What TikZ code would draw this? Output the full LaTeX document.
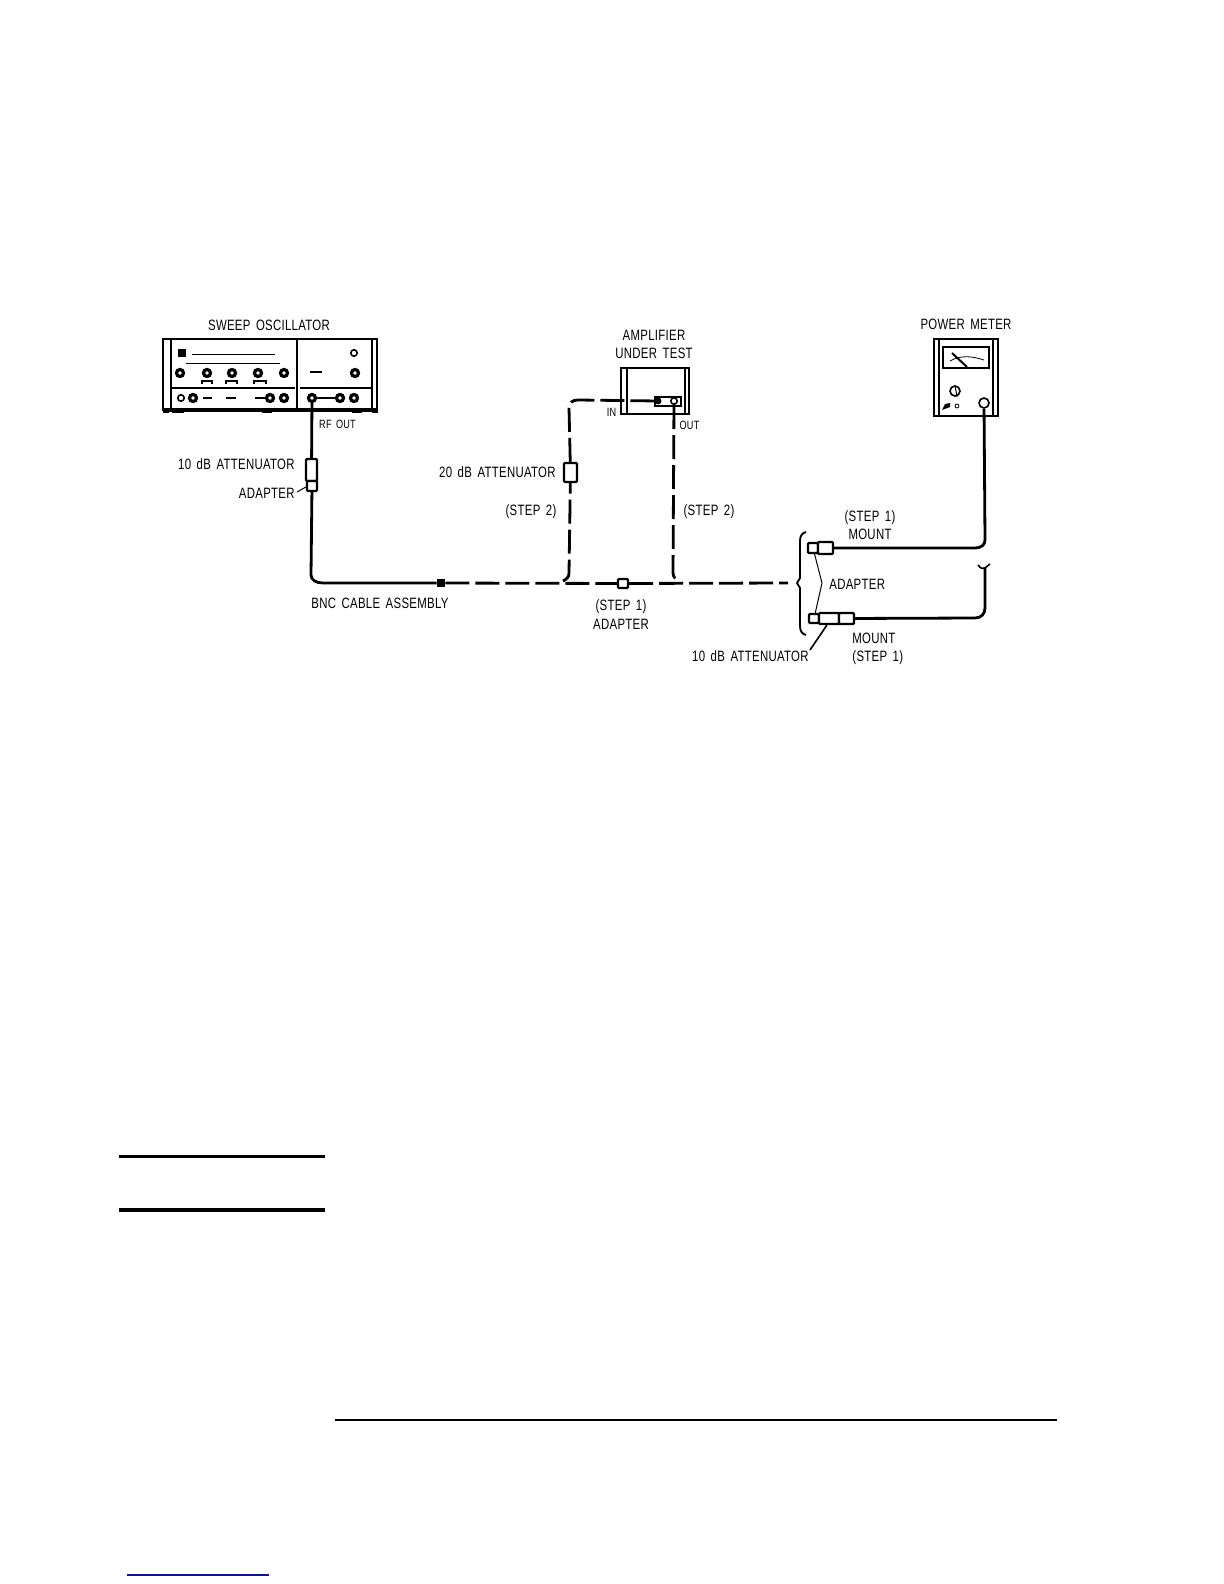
\documentclass[tikz,border=0pt]{standalone}
\usepackage{fontspec}
\setmainfont[FakeStretch=0.76,LetterSpace=2,WordSpace=1.6]{Liberation Sans}
\usepackage{tikz}
\usetikzlibrary{calc,positioning,arrows.meta}
\definecolor{linkblue}{RGB}{20,20,130}
\tikzset{
  lbl/.style={font=\fontsize{7.5}{9}\selectfont, inner sep=0pt, align=center},
  tiny lbl/.style={font=\fontsize{6}{7}\selectfont, inner sep=0pt},
  cable/.style={black, line width=1.4pt},
  link/.style={black, line width=1.4pt, dash pattern=on 12pt off 3pt},
  unit/.style={draw, fill=white, line width=1.1pt, inner sep=0pt, rounded corners=0.5pt},
  knob/.style={draw, circle, fill=white, line width=1.6pt, inner sep=0pt, minimum size=3.5pt},
  pip/.style={draw, circle, fill=white, line width=0.8pt, inner sep=0pt, minimum size=3.2pt},
  leader/.style={black, line width=0.5pt}
}
\begin{document}
\begin{tikzpicture}[x=0.5pt,y=-0.5pt]
  \useasboundingbox (0,0) rectangle (1224,1584);
  % sweep oscillator
  \node[draw, line width=0.9pt, minimum width=107pt, minimum height=35.5pt, inner sep=0pt] (osc) at (270,374.5) {};
  \draw[line width=0.9pt] (171,339) -- (171,410);
  \draw[line width=0.9pt] (372,339) -- (372,410);
  \draw[line width=0.9pt] (297,339) -- (297,410);
  \draw[line width=1.6pt] (163,410) -- (377,410);
  \draw[line width=0.7pt] (172,388) -- (295,388);
  \draw[line width=0.7pt] (300,388) -- (372,388);
  \draw[line width=0.5pt] (192,354) -- (275,354);
  \draw[line width=0.5pt] (186,363) -- (280,363);
  \fill (178,349) rectangle (186,357);
  \foreach \fx/\fw in {163/6,172/12,262/10,352/10,372/6}
    \fill (\fx,410) rectangle ++(\fw,3);
  \foreach \kx/\knm in {180/ka,207/kb,232/kc,258/kd,284/ke,355/kf}
    \node[knob] (\knm) at (\kx,373) {};
  \node[pip] (kg) at (354,353) {};
  \foreach \bx/\bw in {202/10,226/11,254/12}
    \draw[line width=0.6pt] (\bx,384) -- (\bx,381) -- ++(\bw,0) -- ++(0,3);
  \draw[line width=1pt] (310,372) -- (322,372);
  \node[pip] (ph) at (181,398) {};
  \node[knob] (pi) at (193,398) {};
  \node[knob] (pj) at (270,398) {};
  \node[knob] (pk) at (284,398) {};
  \node[knob] (rfout) at (312,398) {};
  \node[knob] (pl) at (340,398) {};
  \node[knob] (pm) at (354,398) {};
  \draw[line width=1pt] (203,398) -- (212,398);
  \draw[line width=1pt] (226,398) -- (236,398);
  \draw[line width=1pt] (255,398) -- (pj);
  \draw[line width=1pt] (rfout) -- (pl);
  \node[lbl] (osclbl) at (269,325) {SWEEP OSCILLATOR};
  \node[tiny lbl] (rflbl) at (337.5,424) {RF OUT};
  % amplifier
  \node[draw, line width=1.1pt, minimum width=34pt, minimum height=23pt, inner sep=0pt] (amp) at (655,391) {};
  \draw[line width=1.1pt] (627,368) -- (627,414);
  \draw[line width=0.9pt] (685,368) -- (685,414);
  \node[draw, line width=1.1pt, minimum width=13pt, minimum height=4.5pt, inner sep=0pt] (plate) at (668,401.5) {};
  \node[circle, fill, inner sep=0pt, minimum size=3.5pt] (ampin) at (658,401) {};
  \node[pip] (ampout) at (674,401) {};
  \node[lbl] (amplbl) at (654,344.5) {AMPLIFIER\\[-0.1pt]UNDER TEST};
  \node[tiny lbl] (inlbl) at (611.5,412) {IN};
  \node[tiny lbl] (outlbl) at (689.5,425) {OUT};
  % power meter
  \node[draw, line width=1.1pt, minimum width=32pt, minimum height=38.5pt, inner sep=0pt] (pwr) at (966,377.5) {};
  \draw[line width=0.9pt] (939,339) -- (939,416);
  \draw[line width=0.9pt] (993,339) -- (993,416);
  \node[draw, line width=0.7pt, minimum width=23pt, minimum height=10.5pt, inner sep=0pt] (dial) at (966,357.5) {};
  \draw[line width=1pt] (952,353) -- (967,367);
  \draw[line width=0.4pt] (950,361) .. controls (960,355) and (972,356) .. (984,360);
  \node[pip, minimum size=5pt] (pwrknob) at (955,391) {};
  \draw[line width=0.5pt] (955,385) -- (957,397);
  \fill (942,410) -- (945,404) -- (950,403) -- (950,407) -- cycle;
  \node[pip, minimum size=2pt, line width=0.4pt] (pwrpip) at (957,406) {};
  \node[pip, minimum size=5pt] (pwrin) at (984,403) {};
  \node[lbl] (pwrlbl) at (966,324) {POWER METER};
  % attenuators and adapters
  \node[unit, minimum width=5.5pt, minimum height=11pt] (attena) at (311.5,470) {};
  \node[unit, minimum width=5pt, minimum height=5pt] (adapta) at (312,486) {};
  \node[fill, inner sep=0pt, minimum width=4pt, minimum height=4pt] (bnc) at (441,583) {};
  \node[unit, minimum width=6.5pt, minimum height=9.5pt] (attenb) at (570.5,472.5) {};
  \node[unit, minimum width=5pt, minimum height=4.5pt] (adaptb) at (623,583.5) {};
  \node[unit, minimum width=5pt, minimum height=5pt] (adaptc) at (813,548) {};
  \node[unit, minimum width=7.5pt, minimum height=6pt] (mounta) at (825.5,548) {};
  \node[unit, minimum width=5pt, minimum height=4.5pt] (adaptd) at (814,618.5) {};
  \node[unit, minimum width=10pt, minimum height=5.5pt] (attenc) at (829,618.5) {};
  \node[unit, minimum width=7.5pt, minimum height=5.5pt] (mountb) at (846.5,618.5) {};
  % cables
  \coordinate (cf) at (788,583);
  \coordinate (ci) at (985,567);
  \draw[cable] (rfout) -- (attena);
  \draw[cable] (adapta) -- (311,575) .. controls (311,580) and (316,583) .. (323,583) -- (bnc);
  \draw[link] (bnc) -- (adaptb);
  \draw[link] (adaptb) -- (cf);
  \draw[link] (563,581) .. controls (567,579) and (569,577) .. (569,573) -- (attenb);
  \draw[link] (attenb) -- (569,408) .. controls (569,403) and (572,400) .. (578,400) -- (ampin);
  \draw[link] (ampout) -- (673,573) .. controls (673,577) and (676,580) .. (680,582);
  \draw[cable] (pwrin) -- (985,540) .. controls (985,545) and (981,548) .. (975,548) -- (mounta);
  \draw[cable] (mountb) -- (975,618) .. controls (981,618) and (985,614) .. (985,608) -- (ci);
  \draw[line width=0.8pt] (978,565) .. controls (981,569) and (983,569) .. (985,568) .. controls (987,567) and (988,565) .. (990,564);
  % brace
  \draw[line width=0.9pt] (806,532) .. controls (802,533) and (800,536) .. (800,541) -- (800,578) -- (797,583) -- (800,588) -- (800,626) .. controls (800,631) and (802,634) .. (806,635);
  % leaders
  \coordinate (aj) at (822,583);
  \draw[leader] (adaptc) -- (aj) -- (adaptd);
  \draw[leader] (adapta.west) ++(0,1) -- (297,492);
  \draw[leader, line width=0.8pt] (attenc.south west) ++(9,0) -- (810,650);
  % labels
  \node[lbl, anchor=east] (lbla) at (295,464) {10 dB ATTENUATOR};
  \node[lbl, anchor=east] (lblb) at (295,493) {ADAPTER};
  \node[lbl, anchor=west] (lblc) at (311,603) {BNC CABLE ASSEMBLY};
  \node[lbl, anchor=east] (lbld) at (556,472) {20 dB ATTENUATOR};
  \node[lbl] (lble) at (531,512) {(STEP 2)};
  \node[lbl] (lblf) at (709,512) {(STEP 2)};
  \node[lbl] (lblg) at (621,615) {(STEP 1)\\[0.5pt]ADAPTER};
  \node[lbl] (lblh) at (870,525.5) {(STEP 1)\\[0.1pt]MOUNT};
  \node[lbl, anchor=west] (lbli) at (829,584) {ADAPTER};
  \node[lbl, anchor=west, align=left] (lblj) at (852,648.5) {MOUNT\\[0.1pt](STEP 1)};
  \node[lbl, anchor=east] (lblk) at (809,656) {10 dB ATTENUATOR};
  % page rules
  \draw[line width=1.65pt] (119,1156.3) -- (325,1156.3);
  \draw[line width=1.65pt] (119,1210) -- (325,1210);
  \draw[line width=1.15pt] (335,1420) -- (1057,1420);
  \draw[linkblue, line width=0.6pt] (127,1575) -- (269,1575);
\end{tikzpicture}
\end{document}
